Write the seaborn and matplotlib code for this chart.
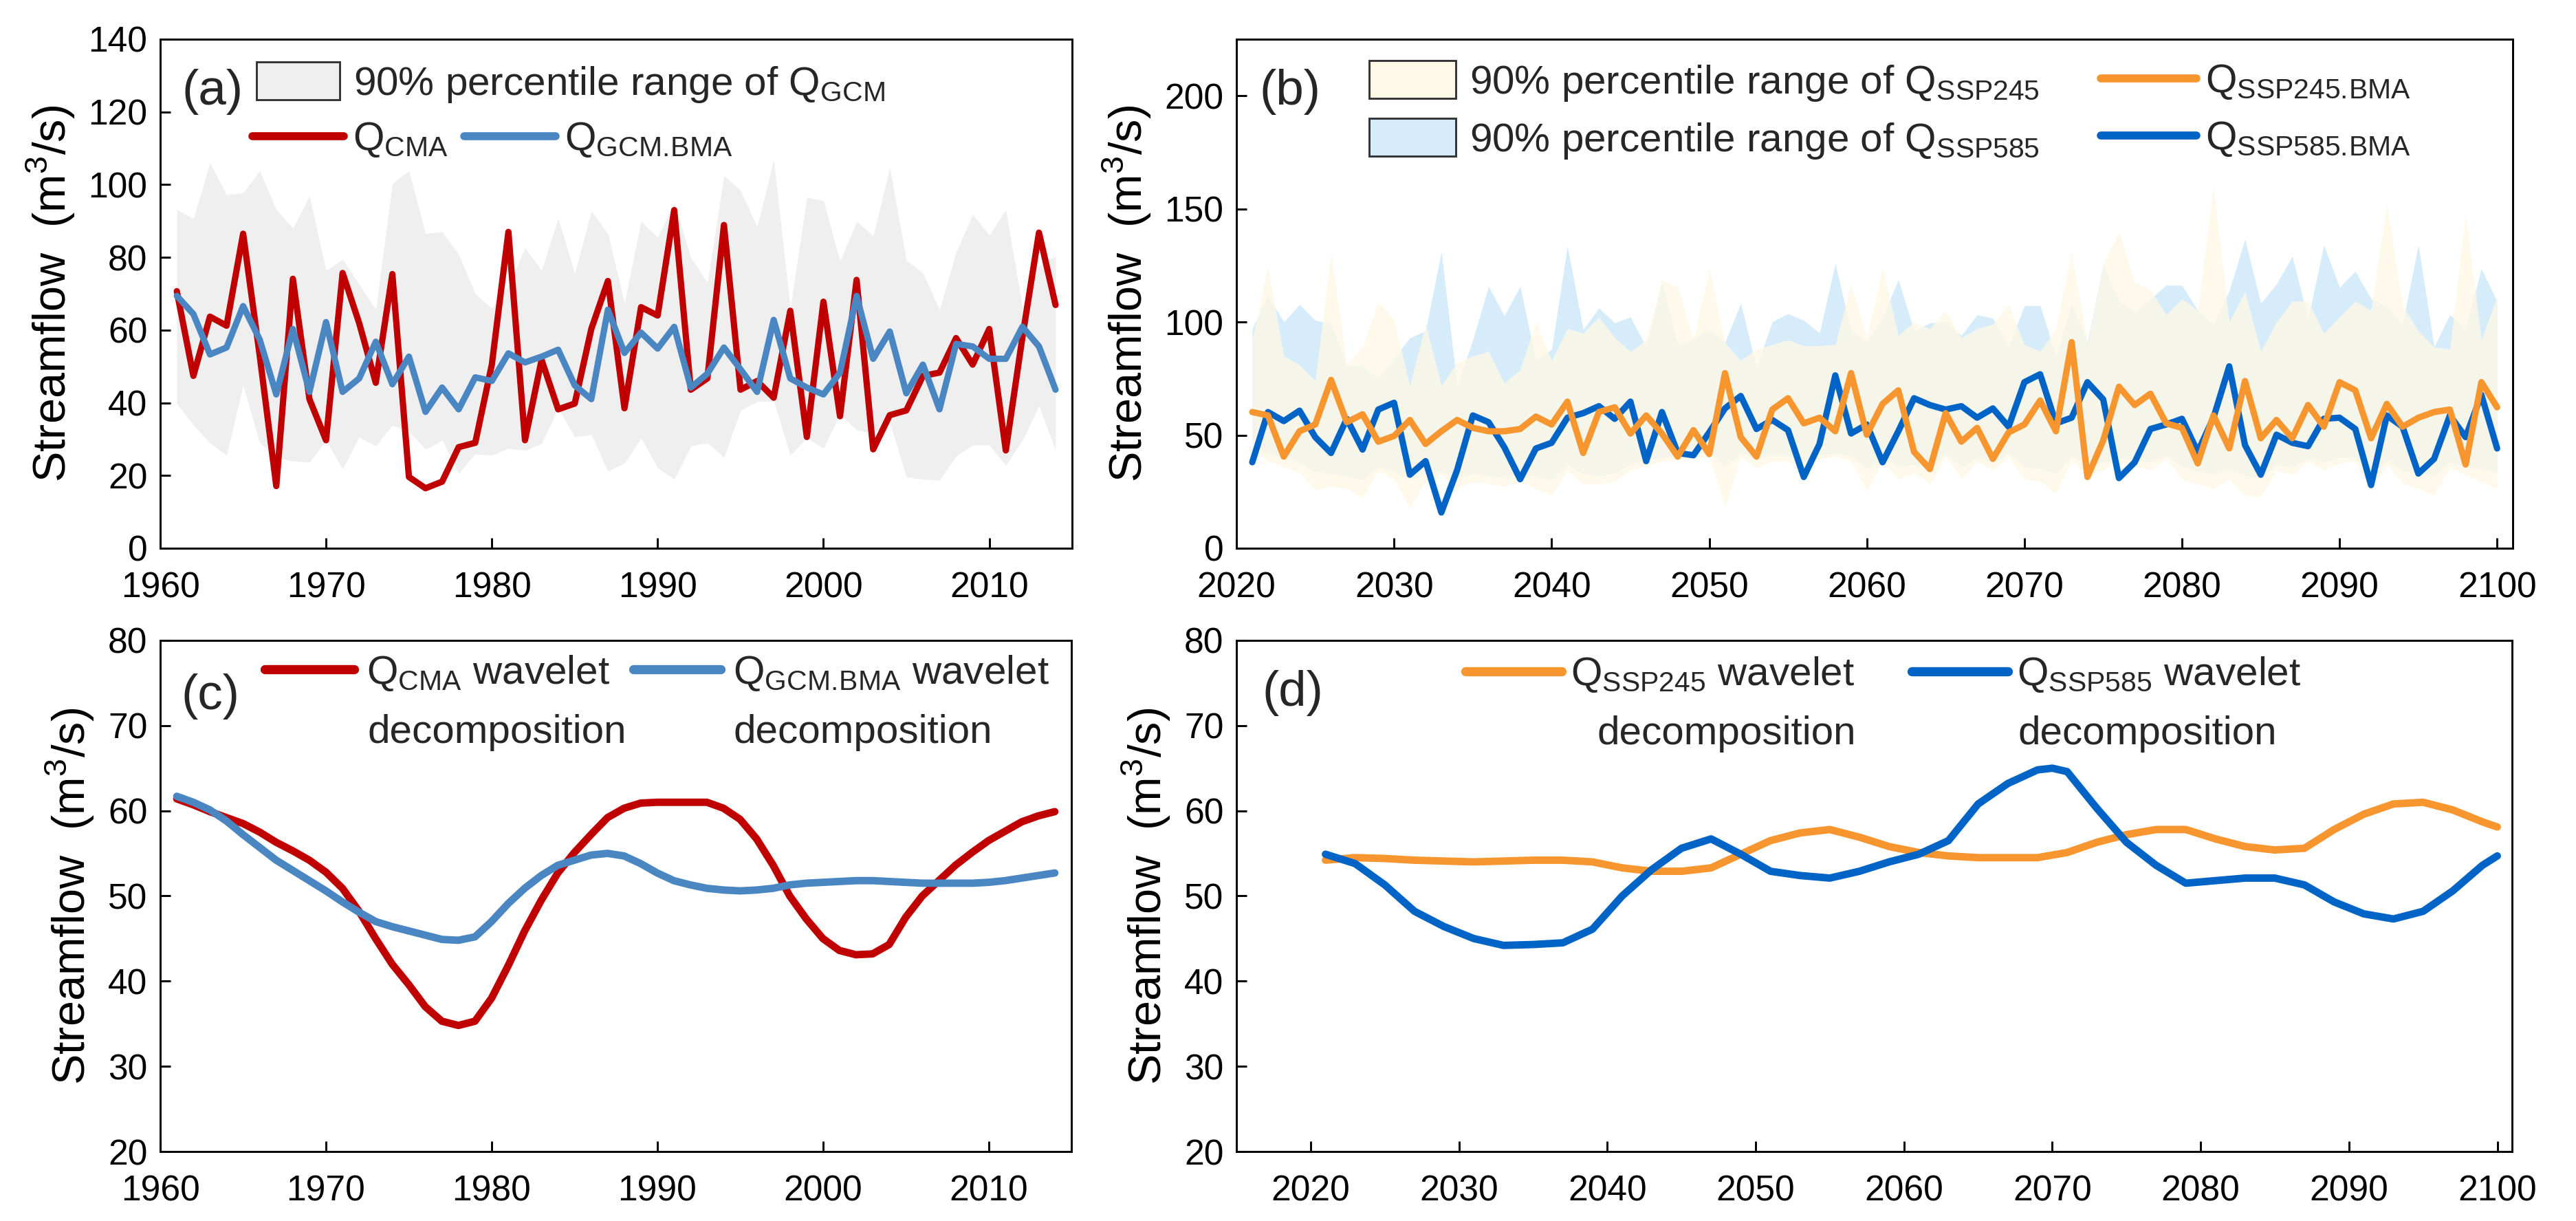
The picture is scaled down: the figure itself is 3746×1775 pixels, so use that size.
import numpy as np
import pandas as pd
import seaborn as sns
import matplotlib
matplotlib.use('Agg')
import matplotlib.pyplot as plt
from matplotlib.legend import Legend
from matplotlib.patches import Patch
from matplotlib.lines import Line2D

# ---------------- data ----------------
years_hist = list(range(1961, 2015))
q_cma = [70.7, 47.4, 63.7, 61.2, 86.5, 53.0, 17.1, 74.1, 41.0, 29.7,
         75.7, 61.9, 45.5, 75.4, 19.6, 16.5, 18.3, 27.8, 29.0, 50.5,
         87.0, 29.7, 51.8, 38.2, 39.8, 60.3, 73.5, 38.5, 66.3, 64.0,
         93.0, 43.6, 46.7, 88.9, 43.6, 46.0, 41.4, 65.3, 30.6, 67.8,
         36.3, 73.8, 27.2, 36.6, 37.9, 47.4, 48.3, 57.8, 50.5, 60.3,
         26.9, 58.0, 86.8, 66.9]
q_gcm_bma = [69.4, 64.4, 53.3, 55.2, 66.6, 57.4, 42.3, 60.3, 43.0, 62.2,
             43.0, 46.7, 56.8, 45.1, 52.7, 37.5, 44.2, 38.2, 47.0, 46.0,
             53.6, 51.1, 52.7, 54.6, 44.8, 41.0, 65.6, 53.7, 59.3, 54.9,
             60.9, 44.2, 48.0, 55.2, 49.2, 43.0, 62.8, 46.7, 44.2, 42.3,
             48.3, 69.4, 52.1, 59.6, 42.6, 50.5, 38.2, 56.2, 55.5, 52.1,
             52.1, 60.9, 55.5, 43.6]
gcm_upper = [93.1, 90.6, 106.0, 97.2, 97.8, 103.8, 93.1, 88.0, 96.9, 76.4,
             79.5, 72.6, 65.6, 100.3, 103.8, 86.5, 87.1, 80.8, 70.0, 66.0,
             72.0, 82.7, 76.4, 90.8, 75.6, 92.7, 86.5, 67.5, 89.9, 85.5,
             95.0, 80.0, 73.0, 102.5, 98.4, 88.3, 106.9, 66.0, 96.5, 95.6,
             78.9, 89.9, 85.9, 104.7, 79.2, 75.7, 65.6, 81.4, 91.8, 86.1,
             93.1, 66.3, 77.6, 80.4]
gcm_lower = [39.8, 33.9, 29.0, 25.6, 44.8, 29.0, 25.0, 24.0, 23.7, 29.7,
             21.8, 30.6, 28.1, 33.9, 32.2, 27.2, 29.7, 20.6, 25.9, 25.6,
             27.5, 26.9, 28.8, 38.5, 30.6, 31.3, 21.2, 23.4, 30.3, 22.1,
             19.0, 28.1, 29.0, 25.0, 37.9, 40.4, 40.4, 25.6, 30.3, 27.5,
             36.9, 32.5, 31.6, 34.7, 19.6, 19.0, 18.7, 25.3, 28.4, 28.4,
             22.8, 29.7, 39.2, 26.9]

years_fut = list(range(2021, 2101))
q_ssp245_bma = [60.2, 58.7, 40.5, 51.7, 54.7, 74.4, 55.7, 59.2, 47.1, 49.6,
                56.7, 46.1, 51.7, 56.7, 53.2, 51.7, 51.7, 52.7, 58.2, 54.7,
                64.8, 42.1, 60.2, 62.3, 50.7, 58.7, 50.7, 40.5, 52.2, 41.6,
                77.4, 49.1, 40.5, 61.3, 66.3, 55.2, 57.7, 51.7, 77.4, 50.2,
                63.8, 69.8, 42.6, 35.0, 59.7, 47.1, 53.2, 39.5, 51.2, 54.7,
                65.3, 51.7, 91.1, 31.5, 47.6, 71.4, 63.3, 68.3, 55.2, 53.2,
                37.5, 58.7, 44.1, 73.9, 48.6, 56.7, 48.6, 63.3, 53.7, 73.4,
                69.8, 48.6, 63.8, 53.7, 57.7, 60.2, 61.3, 37.0, 73.4, 62.3]
q_ssp585_bma = [38.0, 60.2, 56.2, 60.8, 49.1, 42.1, 57.2, 43.6, 61.3, 64.3,
                32.5, 38.5, 15.8, 34.5, 58.7, 55.7, 44.6, 30.5, 44.1, 46.6,
                57.7, 59.7, 62.8, 57.2, 64.8, 38.5, 60.2, 42.1, 41.1, 51.2,
                61.8, 67.3, 52.7, 56.7, 52.2, 31.5, 46.1, 76.4, 50.7, 54.7,
                38.0, 51.7, 66.3, 63.3, 61.3, 62.8, 57.7, 61.8, 53.7, 73.4,
                76.9, 55.2, 57.7, 73.4, 65.8, 31.0, 38.0, 52.7, 54.7, 57.2,
                42.6, 57.7, 80.4, 45.6, 32.5, 50.2, 46.6, 45.1, 57.2, 57.7,
                52.7, 27.9, 58.7, 53.7, 33.0, 39.5, 58.7, 49.1, 67.8, 44.1]
ssp245_upper = [92.0, 124.4, 85.0, 81.0, 74.0, 131.0, 81.0, 89.0, 108.7, 101.2,
                71.9, 99.1, 71.9, 82.0, 85.0, 87.0, 72.9, 78.9, 100.1, 83.0,
                97.1, 95.1, 102.2, 93.1, 87.0, 92.0, 118.8, 115.3, 92.1, 123.4,
                91.0, 83.0, 88.0, 90.0, 92.1, 89.5, 89.5, 90.0, 116.8, 93.0,
                123.7, 94.0, 100.0, 97.0, 105.0, 93.0, 97.0, 99.0, 108.0, 90.0,
                87.0, 97.0, 130.8, 90.0, 125.4, 139.8, 117.3, 114.3, 103.2, 110.2,
                105.2, 160.0, 100.1, 113.3, 87.0, 100.0, 109.2, 109.2, 95.0, 102.2,
                109.2, 105.2, 152.5, 107.2, 96.1, 89.0, 88.0, 148.0, 92.0, 111.3]
ssp245_lower = [44.6, 38.5, 36.0, 33.5, 25.9, 27.4, 26.4, 22.4, 34.5, 30.4,
                17.8, 29.4, 32.5, 26.4, 29.4, 28.4, 27.4, 29.4, 26.4, 23.4,
                34.5, 28.4, 28.4, 29.4, 34.5, 36.5, 38.5, 39.0, 39.5, 40.5,
                18.3, 40.5, 35.5, 38.5, 38.5, 33.5, 39.5, 40.5, 38.5, 25.4,
                38.5, 30.5, 33.5, 28.4, 40.5, 30.5, 38.5, 34.5, 40.5, 30.5,
                29.4, 24.4, 38.5, 32.5, 34.5, 38.5, 36.5, 34.5, 39.5, 30.5,
                28.4, 26.4, 30.5, 23.4, 22.9, 34.5, 32.5, 38.5, 34.5, 37.5,
                38.5, 25.4, 37.5, 28.4, 26.4, 23.4, 35.5, 32.5, 29.4, 26.4]
ssp585_upper = [97.0, 111.8, 100.1, 107.7, 100.7, 99.6, 81.0, 80.4, 74.9, 84.0,
                93.0, 96.1, 131.0, 71.9, 92.1, 115.8, 102.7, 115.8, 83.0, 88.0,
                133.5, 96.6, 106.2, 99.6, 102.2, 89.0, 117.8, 89.5, 92.6, 96.6,
                91.0, 108.2, 79.9, 100.1, 103.7, 100.7, 95.1, 125.9, 96.1, 91.0,
                102.2, 118.7, 96.1, 99.6, 100.1, 94.1, 103.2, 101.7, 89.0, 107.2,
                107.2, 85.0, 108.2, 91.0, 125.2, 109.2, 104.2, 110.2, 116.3, 116.2,
                105.2, 99.1, 113.8, 136.7, 108.2, 116.8, 129.1, 101.2, 134.1, 115.3,
                122.5, 110.2, 107.2, 99.1, 134.1, 89.0, 103.2, 97.1, 123.5, 109.2]
ssp585_lower = [46, 42, 40, 38, 34, 33, 32, 30, 36, 34,
                30, 33, 34, 31, 33, 32, 31, 33, 32, 30,
                37, 33, 32, 33, 37, 39, 40, 41, 42, 42,
                36, 42, 40, 41, 41, 38, 41, 42, 41, 35,
                40, 36, 37, 35, 42, 36, 40, 38, 42, 36,
                35, 33, 41, 37, 38, 40, 39, 38, 41, 36,
                34, 33, 35, 32, 31, 37, 36, 40, 38, 40,
                40, 33, 39, 34, 33, 32, 38, 36, 35, 34]

# wavelet decompositions
wav_cma = [61.4, 60.7, 59.9, 59.2, 58.5, 57.5, 56.3, 55.3, 54.2, 52.8,
           50.9, 48.2, 45.0, 42.0, 39.6, 37.0, 35.3, 34.8, 35.3, 38.0,
           41.8, 45.9, 49.5, 52.7, 55.1, 57.2, 59.2, 60.3, 60.9, 61.0,
           61.0, 61.0, 61.0, 60.3, 59.0, 56.7, 53.6, 50.0, 47.3, 45.0,
           43.6, 43.1, 43.2, 44.3, 47.5, 50.0, 51.8, 53.6, 55.1, 56.5,
           57.6, 58.7, 59.4, 59.9]
wav_gcm_bma = [61.7, 61.0, 60.1, 58.8, 57.2, 55.7, 54.2, 53.0, 51.8, 50.6,
               49.3, 48.1, 47.0, 46.4, 45.9, 45.4, 44.9, 44.8, 45.2, 47.0,
               49.1, 50.9, 52.4, 53.6, 54.2, 54.8, 55.0, 54.7, 53.8, 52.7,
               51.8, 51.3, 50.9, 50.7, 50.6, 50.7, 50.9, 51.3, 51.5, 51.6,
               51.7, 51.8, 51.8, 51.7, 51.6, 51.5, 51.5, 51.5, 51.5, 51.6,
               51.8, 52.1, 52.4, 52.7]
years_w245 = [2021, 2023, 2025, 2027, 2029, 2031, 2033, 2035, 2037, 2039,
              2041, 2043, 2045, 2047, 2049, 2051, 2053, 2055, 2057, 2059,
              2061, 2063, 2065, 2067, 2069, 2071, 2073, 2075, 2077, 2079,
              2081, 2083, 2085, 2087, 2089, 2091, 2093, 2095, 2097, 2099, 2100]
wav_245 = [54.2, 54.5, 54.4, 54.2, 54.1, 54.0, 54.1, 54.2, 54.2, 54.0,
           53.3, 52.9, 52.9, 53.3, 54.9, 56.5, 57.4, 57.8, 56.9, 55.8,
           55.1, 54.7, 54.5, 54.5, 54.5, 55.1, 56.3, 57.2, 57.8, 57.8,
           56.7, 55.8, 55.4, 55.6, 57.8, 59.6, 60.8, 61.0, 60.1, 58.7, 58.1]
years_w585 = [2021, 2023, 2025, 2027, 2029, 2031, 2033, 2035, 2037, 2039,
              2041, 2043, 2045, 2047, 2049, 2051, 2053, 2055, 2057, 2059,
              2061, 2063, 2065, 2067, 2069, 2070, 2071, 2073, 2075, 2077,
              2079, 2081, 2083, 2085, 2087, 2089, 2091, 2093, 2095, 2097,
              2099, 2100]
wav_585 = [54.9, 53.8, 51.3, 48.2, 46.4, 45.0, 44.2, 44.3, 44.5, 46.1,
           50.0, 53.1, 55.6, 56.7, 54.9, 52.9, 52.4, 52.1, 52.9, 54.0,
           54.9, 56.5, 60.8, 63.2, 64.8, 65.0, 64.6, 60.3, 56.3, 53.6,
           51.5, 51.8, 52.1, 52.1, 51.3, 49.3, 47.9, 47.3, 48.2, 50.6,
           53.6, 54.7]

# ---------------- style ----------------
RED = '#C00000'
BLUE_GCM = '#4A86C1'
ORANGE = '#F7952F'
BLUE_585 = '#0063C6'
GRAY_FILL = '#EFEFEF'
CREAM = '#FEF8E6'
LIGHTBLUE = '#D6ECFB'

sns.set_theme(style='ticks')
plt.rcParams['font.family'] = ['Liberation Sans', 'DejaVu Sans']
plt.rcParams['axes.linewidth'] = 0.7
plt.rcParams['axes.edgecolor'] = 'black'

fig = plt.figure(figsize=(3746 / 300, 1775 / 300), dpi=300)
ax_a = fig.add_axes([0.0622, 0.551, 0.354, 0.4169])
ax_b = fig.add_axes([0.480, 0.551, 0.4955, 0.4169])
ax_c = fig.add_axes([0.0622, 0.0569, 0.3537, 0.4186])
ax_d = fig.add_axes([0.480, 0.0569, 0.4952, 0.4186])

LW = 2.2
LEG_FS = 14


def style_axis(ax, xlim, xticks, ylim, yticks):
    ax.set_xlim(*xlim)
    ax.set_ylim(*ylim)
    ax.set_xticks(xticks)
    ax.set_yticks(yticks)
    ax.tick_params(direction='in', length=3.6, width=0.7, labelsize=12.4,
                   colors='black', top=False, right=False)
    ax.tick_params(axis='x', pad=8)
    ax.tick_params(axis='y', pad=4.5)
    ax.set_xlabel('')
    ax.set_ylabel('Streamflow  (m$^\\mathregular{3}$/s)', fontsize=16,
                  color='black')
    ax.grid(False)
    for s in ax.spines.values():
        s.set_visible(True)
        s.set_color('black')
        s.set_linewidth(0.7)


def add_entry(ax, handle, label, x, y, hl, hh=0.7, pad=0.3):
    leg = Legend(ax, [handle], [label], loc='center left',
                 bbox_to_anchor=(x, y), bbox_transform=ax.transAxes,
                 frameon=False, borderpad=0, borderaxespad=0,
                 handlelength=hl, handleheight=hh, handletextpad=pad,
                 fontsize=LEG_FS)
    ax.add_artist(leg)
    return leg


# ---------------- (a) ----------------
ax_a.fill_between(years_hist, gcm_lower, gcm_upper, color=GRAY_FILL, lw=0)
sns.lineplot(x=years_hist, y=q_cma, ax=ax_a, color=RED, linewidth=LW,
             legend=False)
sns.lineplot(x=years_hist, y=q_gcm_bma, ax=ax_a, color=BLUE_GCM,
             linewidth=LW, legend=False)
style_axis(ax_a, (1960, 2015), range(1960, 2011, 10), (0, 140),
           range(0, 141, 20))
ax_a.text(0.024, 0.897, '(a)', transform=ax_a.transAxes, fontsize=17.5,
          va='center', ha='left')
add_entry(ax_a, Patch(facecolor=GRAY_FILL, edgecolor='#333333', lw=0.7),
          '90% percentile range of Q$_\\mathregular{GCM}$', 0.1056, 0.9135,
          2.08, 1.06, 0.33)
add_entry(ax_a, Line2D([], [], color=RED, lw=LW + 0.6, solid_capstyle='round'),
          'Q$_\\mathregular{CMA}$', 0.101, 0.8027, 2.28, 0.7, 0.22)
add_entry(ax_a, Line2D([], [], color=BLUE_GCM, lw=LW + 0.6,
                       solid_capstyle='round'),
          'Q$_\\mathregular{GCM.\\!BMA}$', 0.3333, 0.8027, 2.28, 0.7, 0.22)

# ---------------- (b) ----------------
ax_b.fill_between(years_fut, ssp585_lower, ssp585_upper, color=LIGHTBLUE,
                  lw=0)
ax_b.fill_between(years_fut, ssp245_lower, ssp245_upper, color=CREAM, lw=0,
                  alpha=0.8)
sns.lineplot(x=years_fut, y=q_ssp585_bma, ax=ax_b, color=BLUE_585,
             linewidth=LW, legend=False)
sns.lineplot(x=years_fut, y=q_ssp245_bma, ax=ax_b, color=ORANGE,
             linewidth=LW, legend=False)
style_axis(ax_b, (2020, 2101), range(2020, 2101, 10), (0, 225),
           range(0, 201, 50))
ax_b.text(0.018, 0.897, '(b)', transform=ax_b.transAxes, fontsize=17.5,
          va='center', ha='left')
add_entry(ax_b, Patch(facecolor=CREAM, edgecolor='#333333', lw=0.7),
          '90% percentile range of Q$_\\mathregular{SSP245}$', 0.104, 0.9162,
          2.16, 1.06, 0.34)
add_entry(ax_b, Patch(facecolor=LIGHTBLUE, edgecolor='#333333', lw=0.7),
          '90% percentile range of Q$_\\mathregular{SSP585}$', 0.104, 0.8027,
          2.16, 1.06, 0.34)
add_entry(ax_b, Line2D([], [], color=ORANGE, lw=LW + 0.6,
                       solid_capstyle='round'),
          'Q$_\\mathregular{SSP245.\\!BMA}$', 0.6773, 0.9162, 2.38, 0.7, 0.22)
add_entry(ax_b, Line2D([], [], color=BLUE_585, lw=LW + 0.6,
                       solid_capstyle='round'),
          'Q$_\\mathregular{SSP585.\\!BMA}$', 0.6773, 0.804, 2.38, 0.7, 0.22)

# ---------------- (c) ----------------
sns.lineplot(x=years_hist, y=wav_cma, ax=ax_c, color=RED, linewidth=2.6,
             legend=False)
sns.lineplot(x=years_hist, y=wav_gcm_bma, ax=ax_c, color=BLUE_GCM,
             linewidth=2.6, legend=False)
style_axis(ax_c, (1960, 2015), range(1960, 2011, 10), (20, 80),
           range(20, 81, 10))
ax_c.text(0.023, 0.89, '(c)', transform=ax_c.transAxes, fontsize=17.5,
          va='center', ha='left')
add_entry(ax_c, Line2D([], [], color=RED, lw=3.2, solid_capstyle='round'),
          'Q$_\\mathregular{CMA}$ wavelet', 0.1147, 0.9367, 2.23, 0.7, 0.31)
add_entry(ax_c, Line2D([], [], color=BLUE_GCM, lw=3.2, solid_capstyle='round'),
          'Q$_\\mathregular{GCM.\\!BMA}$ wavelet', 0.519, 0.9367, 2.18, 0.7,
          0.31)
ax_c.text(0.2272, 0.8197, 'decomposition', transform=ax_c.transAxes,
          fontsize=LEG_FS, va='center', ha='left')
ax_c.text(0.6294, 0.8197, 'decomposition', transform=ax_c.transAxes,
          fontsize=LEG_FS, va='center', ha='left')

# ---------------- (d) ----------------
sns.lineplot(x=years_w245, y=wav_245, ax=ax_d, color=ORANGE, linewidth=2.6,
             legend=False)
sns.lineplot(x=years_w585, y=wav_585, ax=ax_d, color=BLUE_585, linewidth=2.6,
             legend=False)
style_axis(ax_d, (2015, 2101), range(2020, 2101, 10), (20, 80),
           range(20, 81, 10))
ax_d.text(0.02, 0.8964, '(d)', transform=ax_d.transAxes, fontsize=17.5,
          va='center', ha='left')
add_entry(ax_d, Line2D([], [], color=ORANGE, lw=3.2, solid_capstyle='round'),
          'Q$_\\mathregular{SSP245}$ wavelet', 0.1795, 0.9327, 2.4, 0.7, 0.22)
add_entry(ax_d, Line2D([], [], color=BLUE_585, lw=3.2, solid_capstyle='round'),
          'Q$_\\mathregular{SSP585}$ wavelet', 0.5294, 0.9327, 2.4, 0.7, 0.22)
ax_d.text(0.2825, 0.817, 'decomposition', transform=ax_d.transAxes,
          fontsize=LEG_FS, va='center', ha='left')
ax_d.text(0.6124, 0.817, 'decomposition', transform=ax_d.transAxes,
          fontsize=LEG_FS, va='center', ha='left')

fig.savefig('out.png', dpi=300)
